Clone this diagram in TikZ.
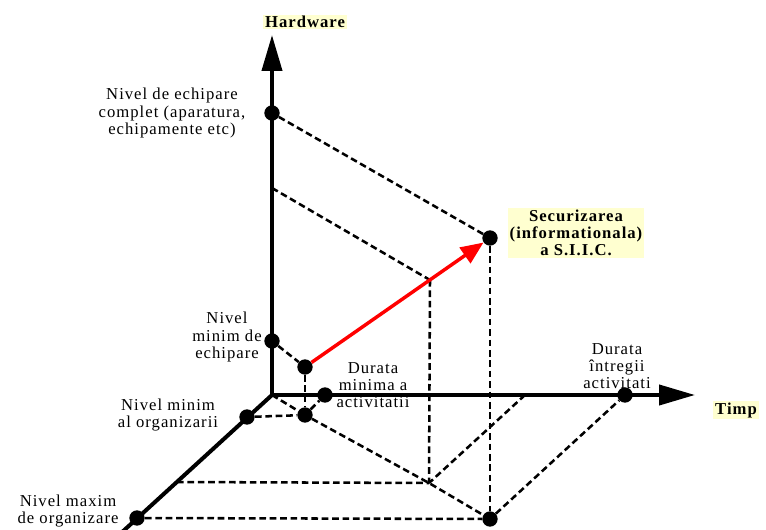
\documentclass[tikz,border=0pt]{standalone}
\usepackage{fontspec}
\setmainfont[LetterSpace=6]{Liberation Serif}
\usetikzlibrary{arrows.meta}

\definecolor{notebg}{RGB}{255,255,208}

\tikzset{
  axis/.style={line width=3pt, -{Triangle[length=27pt,width=15pt]}},
  guide/.style={line width=1.9pt, dash pattern=on 5pt off 2.8pt},
  dot/.style={circle, fill=black, inner sep=0pt, minimum size=11.5pt},
  vector/.style={red, line width=2.6pt, -{Triangle[length=17pt,width=14pt]}},
  note/.style={fill=notebg, font=\fontsize{12.5}{13}\selectfont\bfseries,
    inner xsep=1.5pt, inner ysep=1pt, align=center},
  legend/.style={align=center}
}

\begin{document}
\begin{tikzpicture}[x=7.5pt, y=7.5pt, font=\fontsize{12.5}{13}\selectfont]
    \useasboundingbox (-27.2,-13.4) rectangle (49.4,39.5);

    % === Axe ===
    \coordinate (O) at (0,0);
    \coordinate (hend) at (0,36);
    \coordinate (tend) at (42.3,0);
    \coordinate (oend) at (-15.2,-13.9);

    % Puncte pe axe
    \node[dot] (hfull) at (0,28.2) {};
    \node[dot] (hmin) at (0,5.4) {};
    \node[dot] (tmin) at (5.3,0) {};
    \node[dot] (tfull) at (35.3,0) {};
    \node[dot] (omin) at (-2.5,-2.2) {};
    \node[dot] (omax) at (-13.5,-12.3) {};

    % Puncte interioare
    \node[dot] (start) at (3.3,2.8) {};
    \node[dot] (base) at (3.3,-2.0) {};
    \node[dot] (goal) at (21.8,15.7) {};
    \node[dot] (foot) at (21.8,-12.4) {};
    \coordinate (hmid) at (0,20.7);
    \coordinate (cross) at (15.8,11.5);
    \coordinate (tmid) at (25.3,0);
    \coordinate (knee) at (15.7,-8.8);
    \coordinate (omid) at (-9.5,-8.7);

    \draw[axis] (O) -- (hend);
    \draw[axis] (O) -- (tend);
    \draw[line width=3pt] (O) -- (oend);

    % === Linii ajutatoare ===
    \draw[guide] (hfull) -- (goal);
    \draw[guide] (hmid) -- (cross);
    \draw[guide] (hmin) -- (start);
    \draw[guide] (start) -- (base);
    \draw[guide] (omin) -- (base);
    \draw[guide] (base) -- (tmin);
    \draw[guide] (O) -- (base) -- (knee) -- (foot);
    \draw[guide] (cross) -- (knee);
    \draw[guide] (omid) -- (knee);
    \draw[guide] (tmid) -- (knee);
    \draw[guide] (goal) -- (foot);
    \draw[guide] (omax) -- (foot);
    \draw[guide] (foot) -- (tfull);

    % Vectorul
    \draw[vector] (start) -- (goal);

    % === Etichete ===
    \node[note] (hwlabel) at (3.3,37.3) {Hardware};
    \node[note] (timplabel) at (46.4,-1.5) {Timp};
    \node[note] (goallabel) at (30.4,16.2) {Securizarea\\(informationala)\\a S.I.I.C.};

    \node[legend] (hfulltext) at (-10.0,28.2) {Nivel de echipare\\complet (aparatura,\\echipamente etc)};
    \node[legend] (hmintext) at (-4.5,5.8) {Nivel\\minim de\\echipare};
    \node[legend] (tmintext) at (10.1,1.0) {Durata\\minima a\\activitatii};
    \node[legend] (tfulltext) at (34.5,2.9) {Durata\\întregii\\activitati};
    \node[legend] (omintext) at (-10.4,-2.0) {Nivel minim\\al organizarii};
    \node[legend] (omaxtext) at (-20.4,-11.6) {Nivel maxim\\de organizare};
\end{tikzpicture}
\end{document}
